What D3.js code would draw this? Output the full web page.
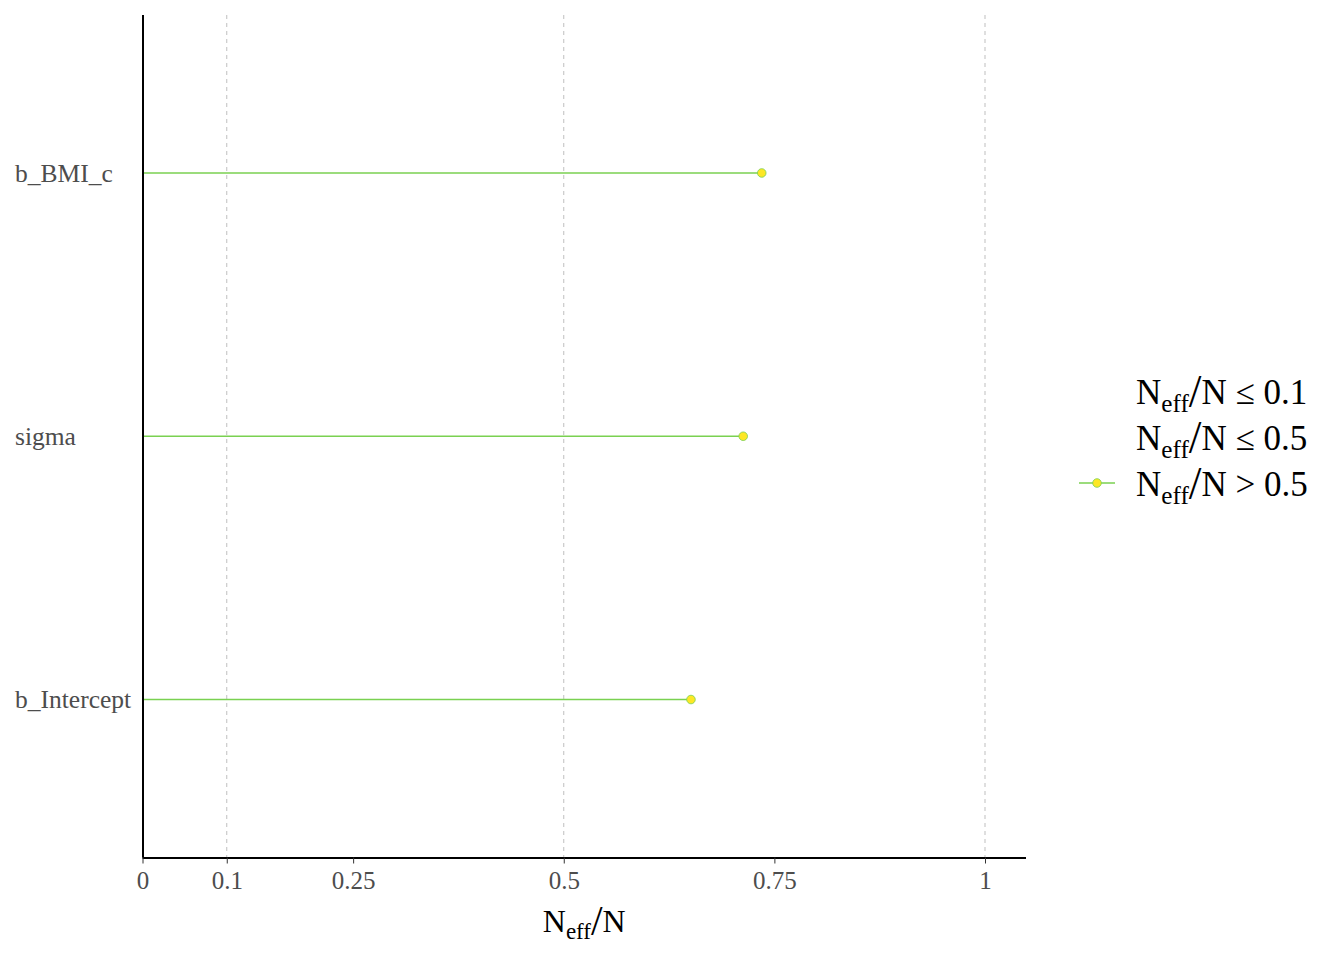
<!DOCTYPE html>
<html><head><meta charset="utf-8">
<script src="https://cdn.jsdelivr.net/npm/d3@7"></script>
<style>body{margin:0;background:#fff}svg{display:block}</style>
</head><body>
<svg id="c" width="1344" height="960"></svg>
<script>
const params = ["b_Intercept", "sigma", "b_BMI_c"];
const ratios = [0.651, 0.713, 0.735];
const xTicks = [0, 0.1, 0.25, 0.5, 0.75, 1];
const xTickLabels = ["0", "0.1", "0.25", "0.5", "0.75", "1"];
const gridTicks = [0.1, 0.5, 1];
const legendLabels = [["≤", "0.1"], ["≤", "0.5"], [">", "0.5"]];

const svg = d3.select("#c");
const font = "'Liberation Serif','Times New Roman',serif";
const L = 142.5, R = 1026, T = 15, B = 857.5;
const x = d3.scaleLinear().domain([0, 1.05]).range([L, L + 842.5 * 1.05]);
const y = d3.scalePoint().domain(params).range([B, T]).padding(0.6);

const lineCol = "#7ad151", ptFill = "#fde725";

// grid
svg.append("g").selectAll("line").data(gridTicks).join("line")
  .attr("x1", d => x(d)).attr("x2", d => x(d)).attr("y1", T).attr("y2", B)
  .attr("stroke", "#bfbfbf").attr("stroke-width", 1).attr("stroke-dasharray", "4,4");

// segments
svg.append("g").selectAll("line").data(params).join("line")
  .attr("x1", x(0)).attr("x2", (d, i) => x(ratios[i]))
  .attr("y1", d => y(d)).attr("y2", d => y(d))
  .attr("stroke", lineCol).attr("stroke-width", 1.6);
svg.append("g").selectAll("circle").data(params).join("circle")
  .attr("cx", (d, i) => x(ratios[i])).attr("cy", d => y(d)).attr("r", 4.3)
  .attr("fill", ptFill).attr("stroke", lineCol).attr("stroke-width", 0.8);

// x axis
const xa = svg.append("g").attr("transform", `translate(0,${B})`)
  .call(d3.axisBottom(x).tickValues(xTicks).tickFormat((d, i) => xTickLabels[i]).tickSize(6).tickPadding(8));
xa.select(".domain").attr("d", `M${L},0.5H${R}`).attr("stroke", "#000").attr("stroke-width", 2);
xa.selectAll(".tick line").attr("stroke", "#333");
xa.selectAll(".tick text").attr("font-family", font).attr("font-size", 25).attr("fill", "#4d4d4d");

// y axis
const ya = svg.append("g").attr("transform", `translate(${L},0)`)
  .call(d3.axisLeft(y).tickSize(0).tickPadding(8));
ya.select(".domain").attr("d", `M0.5,${T}V${B}`).attr("stroke", "#000").attr("stroke-width", 2);
ya.selectAll(".tick text").attr("font-family", font).attr("font-size", 25.5).attr("fill", "#4d4d4d")
  .attr("text-anchor", "start").attr("x", -127.5);

function neff(g, xx, yy, size, anchor, suffix) {
  const t = g.append("text").attr("x", xx).attr("y", yy).attr("font-family", font)
    .attr("font-size", size).attr("fill", "#000").attr("text-anchor", anchor);
  t.append("tspan").text("N");
  t.append("tspan").attr("font-size", size * 0.72).attr("dy", size * 0.22).text("eff");
  t.append("tspan").attr("dy", -size * 0.22 + size * 0.08).attr("font-size", size * 1.3).text("/");
  t.append("tspan").attr("dy", -size * 0.08).attr("font-size", size).text("N" + (suffix || ""));
  return t;
}

// axis title
neff(svg, (L + R) / 2, 932, 32, "middle");

// legend
const lg = svg.append("g");
legendLabels.forEach((l, i) => {
  const yy = 404 + i * 46;
  neff(lg, 1136, yy, 35, "start", " " + l[0] + " " + l[1]);
});
lg.append("line").attr("x1", 1079).attr("x2", 1115).attr("y1", 483).attr("y2", 483)
  .attr("stroke", lineCol).attr("stroke-width", 1.6);
lg.append("circle").attr("cx", 1097).attr("cy", 483).attr("r", 4.3)
  .attr("fill", ptFill).attr("stroke", lineCol).attr("stroke-width", 0.8);
</script>
</body></html>
